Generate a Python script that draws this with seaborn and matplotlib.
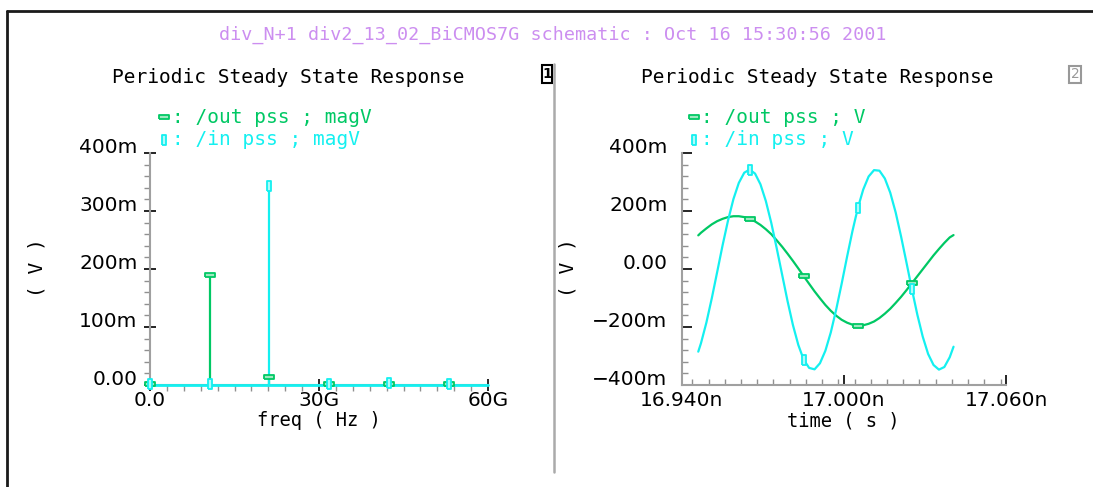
import numpy as np
import pandas as pd
import seaborn as sns
import matplotlib.pyplot as plt
from matplotlib.lines import Line2D
from matplotlib.patches import Rectangle
from matplotlib.ticker import MultipleLocator

# PSS harmonics (left panel): frequency in GHz, magnitude in V
freq_ghz = [0.0, 10.6, 21.2, 31.8, 42.4, 53.0]
out_mag = [0.001, 0.190, 0.014, 0.002, 0.0015, 0.001]
in_mag = [0.001, 0.001, 0.343, 0.001, 0.003, 0.002]

# PSS waveforms (right panel): time in ps, voltage in mV
time_ps = [16946.2, 16947.2, 16949.2, 16951.2, 16953.2, 16955.2, 16957.2, 16959.2,
           16961.2, 16963.2, 16965.2, 16967.2, 16969.2, 16971.2, 16973.2, 16975.2,
           16977.2, 16979.2, 16981.2, 16983.2, 16985.2, 16987.2, 16989.2, 16991.2,
           16993.2, 16995.2, 16997.2, 16999.2, 17001.2, 17003.2, 17005.2, 17007.2,
           17009.2, 17011.2, 17013.2, 17015.2, 17017.2, 17019.2, 17021.2, 17023.2,
           17025.2, 17027.2, 17029.2, 17031.2, 17033.2, 17035.2, 17037.2, 17039.2,
           17040.6]
out_mv = [116, 125, 140, 154, 165, 173, 179, 182, 182, 179, 173, 164, 152, 137, 120, 99,
          77, 53, 28, 2, -25, -51, -77, -101, -124, -144, -161, -175, -185, -192, -195,
          -194, -189, -181, -169, -154, -137, -117, -96, -73, -49, -25, -1, 23, 47, 69,
          90, 109, 117]
in_mv = [-285, -256, -185, -101, -10, 82, 167, 241, 297, 332, 343, 329, 292, 234, 159, 72,
         -19, -110, -193, -262, -313, -341, -346, -325, -282, -219, -140, -52, 41, 130, 210,
         274, 319, 341, 339, 312, 263, 195, 112, 22, -70, -157, -233, -293, -331, -347,
         -338, -304, -268]
marker_idx = [10, 20, 30, 40]

GREEN = "#00c864"
CYAN = "#14f0f0"
HBOX = [(-1, -0.4), (1, -0.4), (1, 0.4), (-1, 0.4), (-1, -0.4)]
VBOX = [(-0.45, -1), (0.45, -1), (0.45, 1), (-0.45, 1), (-0.45, -1)]
MONO = ["DejaVu Sans Mono"]

sns.set_theme(style="white", rc={"text.color": "black", "xtick.color": "black",
                                 "ytick.color": "black", "axes.labelcolor": "black"})
plt.rcParams["font.family"] = ["DejaVu Sans"]

W, H = 1093, 487
fig = plt.figure(figsize=(W / 100, H / 100), dpi=100)


def fx(x):
    return x / W


def fy(y):
    return 1 - y / H


ax1 = fig.add_axes([fx(150), fy(385), 338 / W, 232 / H])
ax2 = fig.add_axes([fx(681.5), fy(385), 324.5 / W, 232 / H])

# left: harmonic magnitudes drawn as stems
ax1.vlines(freq_ghz, 0, out_mag, color=GREEN, lw=1.6, clip_on=False, zorder=2)
ax1.axhline(0, color=CYAN, lw=2, clip_on=False, zorder=3)
ax1.vlines(freq_ghz, 0, in_mag, color=CYAN, lw=1.6, clip_on=False, zorder=3)
ax1.plot(freq_ghz, out_mag, ls="none", marker=HBOX, ms=7.5, mec=GREEN, mfc="#9ee8c0",
         mew=1.3, clip_on=False, zorder=4)
ax1.plot(freq_ghz, in_mag, ls="none", marker=VBOX, ms=7, mec=CYAN, mfc="#b0fafa",
         mew=1.3, clip_on=False, zorder=5)
ax1.set_xlim(0, 60)
ax1.set_ylim(0, 0.4)
ax1.set_xticks([0, 30, 60], labels=["0.0", "30G", "60G"])
ax1.set_yticks([0, 0.1, 0.2, 0.3, 0.4], labels=["0.00", "100m", "200m", "300m", "400m"])
ax1.xaxis.set_minor_locator(MultipleLocator(3))
ax1.yaxis.set_minor_locator(MultipleLocator(0.02))
ax1.tick_params(which="both", bottom=True, left=True)
ax1.tick_params(which="major", direction="inout", length=8, width=1.2, colors="black", labelsize=14.5)
ax1.tick_params(which="minor", direction="out", length=4, width=1, color="#909090")
ax1.tick_params(axis="x", which="major", pad=0)
ax1.tick_params(axis="y", which="major", pad=5)

# right: time waveforms
wave = pd.DataFrame({"t": time_ps, "out": np.array(out_mv) / 1000, "in": np.array(in_mv) / 1000})
sns.lineplot(data=wave, x="t", y="out", ax=ax2, color=GREEN, lw=1.6, sort=False, estimator=None)
sns.lineplot(data=wave, x="t", y="in", ax=ax2, color=CYAN, lw=1.6, sort=False, estimator=None)
mk = wave.iloc[marker_idx]
ax2.plot(mk["t"], mk["out"], ls="none", marker=HBOX, ms=7.5, mec=GREEN, mfc="#9ee8c0", mew=1.3)
ax2.plot(mk["t"], mk["in"], ls="none", marker=VBOX, ms=7, mec=CYAN, mfc="#b0fafa", mew=1.3)
ax2.set_xlim(16940, 17060)
ax2.set_ylim(-0.4, 0.4)
ax2.set_xticks([16940, 17000, 17060], labels=["16.940n", "17.000n", "17.060n"])
ax2.set_yticks([-0.4, -0.2, 0, 0.2, 0.4],
               labels=["\u2212400m", "\u2212200m", "0.00", "200m", "400m"])
ax2.xaxis.set_minor_locator(MultipleLocator(6))
ax2.yaxis.set_minor_locator(MultipleLocator(0.04))
ax2.tick_params(which="both", bottom=True, left=True)
ax2.tick_params(which="major", direction="in", length=7, width=1.2, colors="black", labelsize=14.5)
ax2.tick_params(which="minor", direction="in", length=4, width=1, color="#909090")
ax2.tick_params(axis="x", which="major", pad=4)
ax2.tick_params(axis="y", which="major", pad=10)
ax2.set_xlabel("")
ax2.set_ylabel("")

for ax in (ax1, ax2):
    for s in ("top", "right"):
        ax.spines[s].set_visible(False)
    for s in ("left", "bottom"):
        ax.spines[s].set_color("#a0a0a0")
        ax.spines[s].set_linewidth(1.5)
    for lbl in ax.get_yticklabels():
        lbl.set_verticalalignment("baseline")
    ax.patch.set_alpha(0)

# texts
fig.text(fx(553), fy(35), "div_N+1 div2_13_02_BiCMOS7G schematic : Oct 16 15:30:56 2001",
         ha="center", va="center", fontsize=13.2, color="#cc8ef0", family=MONO)
for cx in (288, 817):
    fig.text(fx(cx), fy(83), "Periodic Steady State Response", ha="center",
             va="baseline", fontsize=14, family=MONO)
fig.text(fx(172), fy(123), ": /out pss ; magV", color=GREEN, fontsize=14, va="baseline", family=MONO)
fig.text(fx(172), fy(145), ": /in pss ; magV", color=CYAN, fontsize=14, va="baseline", family=MONO)
fig.text(fx(701), fy(123), ": /out pss ; V", color=GREEN, fontsize=14, va="baseline", family=MONO)
fig.text(fx(701), fy(145), ": /in pss ; V", color=CYAN, fontsize=14, va="baseline", family=MONO)
for x0 in (164, 693.5):
    fig.add_artist(Line2D([fx(x0)], [fy(116.5)], marker=HBOX, ms=7.5, mec=GREEN,
                          mfc="#9ee8c0", mew=1.3, ls="none", transform=fig.transFigure))
    fig.add_artist(Line2D([fx(x0)], [fy(139.5)], marker=VBOX, ms=7, mec=CYAN,
                          mfc="#b0fafa", mew=1.3, ls="none", transform=fig.transFigure))
fig.text(fx(37), fy(268), "( V )", rotation=90, ha="center", va="center", fontsize=14, family=MONO)
fig.text(fx(568), fy(268), "( V )", rotation=90, ha="center", va="center", fontsize=14, family=MONO)
fig.text(fx(319), fy(421), "freq ( Hz )", ha="center", va="center", fontsize=13.5, family=MONO)
fig.text(fx(843), fy(421), "time ( s )", ha="center", va="center", fontsize=13.5, family=MONO)

# frame, divider and panel number boxes
fig.add_artist(Line2D([fx(7), fx(7)], [0, fy(11)], color="#1a1a1a", lw=2, transform=fig.transFigure))
fig.add_artist(Line2D([fx(7), 1], [fy(11), fy(11)], color="#1a1a1a", lw=2, transform=fig.transFigure))
fig.add_artist(Line2D([fx(553.5), fx(553.5)], [fy(64), fy(472)], color="#aaaaaa", lw=1.8,
                      transform=fig.transFigure))
fig.add_artist(Rectangle((fx(542), fy(83)), 10 / W, 18 / H, fill=False, ec="black", lw=1.5,
                         transform=fig.transFigure))
fig.text(fx(547), fy(74), "1", ha="center", va="center", fontsize=10, fontweight="bold")
fig.add_artist(Rectangle((fx(1069), fy(83)), 12 / W, 17 / H, fill=False, ec="#999999", lw=1.5,
                         transform=fig.transFigure))
fig.text(fx(1075), fy(74.5), "2", ha="center", va="center", fontsize=10, color="#999999")

fig.savefig("out.png", dpi=100)
